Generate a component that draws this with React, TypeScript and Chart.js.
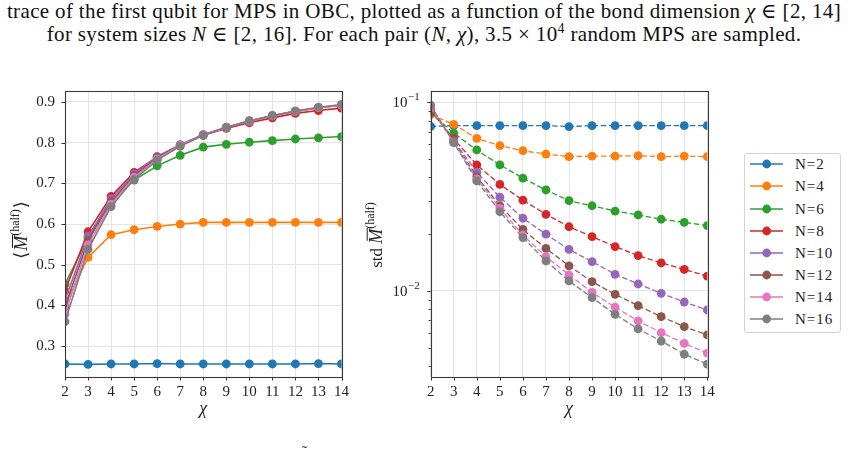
import { useEffect, useRef } from 'react';
import { Chart, registerables } from 'chart.js';

Chart.register(...registerables);

// Bond dimensions on the x axis and the system sizes shown as series
const chiValues = [2, 3, 4, 5, 6, 7, 8, 9, 10, 11, 12, 13, 14];
const systemSizes = [2, 4, 6, 8, 10, 12, 14, 16];
const seriesColors = ['#1f77b4', '#ff7f0e', '#2ca02c', '#d62728', '#9467bd', '#8c564b', '#e377c2', '#7f7f7f'];

// Mean of the half-chain magic per system size
const meanN2 = [0.256, 0.255, 0.256, 0.256, 0.257, 0.256, 0.256, 0.256, 0.256, 0.256, 0.256, 0.257, 0.256];
const meanN4 = [0.4, 0.518, 0.574, 0.586, 0.594, 0.6, 0.604, 0.604, 0.604, 0.604, 0.604, 0.604, 0.604];
const meanN6 = [0.452, 0.566, 0.655, 0.708, 0.743, 0.769, 0.789, 0.796, 0.801, 0.805, 0.809, 0.812, 0.815];
const meanN8 = [0.436, 0.581, 0.668, 0.727, 0.765, 0.794, 0.818, 0.835, 0.849, 0.861, 0.872, 0.879, 0.885];
const meanN10 = [0.413, 0.57, 0.662, 0.723, 0.766, 0.795, 0.82, 0.838, 0.853, 0.866, 0.877, 0.886, 0.892];
const meanN12 = [0.397, 0.559, 0.655, 0.719, 0.763, 0.794, 0.819, 0.837, 0.853, 0.866, 0.877, 0.886, 0.892];
const meanN14 = [0.378, 0.549, 0.649, 0.715, 0.76, 0.793, 0.819, 0.837, 0.853, 0.866, 0.877, 0.886, 0.892];
const meanN16 = [0.36, 0.538, 0.643, 0.71, 0.757, 0.791, 0.818, 0.837, 0.854, 0.867, 0.878, 0.887, 0.894];

// Standard deviation of the half-chain magic per system size
const stdN2 = [0.0745, 0.0752, 0.0752, 0.0752, 0.0752, 0.0752, 0.0744, 0.0752, 0.0752, 0.0752, 0.0752, 0.0752, 0.0752];
const stdN4 = [0.086, 0.0764, 0.0644, 0.0589, 0.0554, 0.0532, 0.0515, 0.0519, 0.0519, 0.0521, 0.0515, 0.0519, 0.0515];
const stdN6 = [0.088, 0.0686, 0.0559, 0.0466, 0.0396, 0.0343, 0.0301, 0.0283, 0.0265, 0.0253, 0.024, 0.0231, 0.0222];
const stdN8 = [0.09, 0.064, 0.0466, 0.0367, 0.0303, 0.0255, 0.0219, 0.0194, 0.0172, 0.0154, 0.0141, 0.013, 0.012];
const stdN10 = [0.092, 0.0625, 0.0426, 0.0314, 0.0243, 0.02, 0.0166, 0.0143, 0.01226, 0.01089, 0.00972, 0.00874, 0.00793];
const stdN12 = [0.093, 0.0618, 0.0404, 0.0283, 0.0212, 0.0168, 0.0136, 0.0112, 0.0096, 0.00836, 0.00731, 0.00647, 0.00585];
const stdN14 = [0.094, 0.0614, 0.0393, 0.0274, 0.0198, 0.0152, 0.01216, 0.00984, 0.0082, 0.00694, 0.00602, 0.00528, 0.00468];
const stdN16 = [0.0967, 0.0611, 0.0383, 0.0263, 0.0192, 0.01442, 0.0113, 0.00922, 0.00752, 0.00629, 0.00543, 0.00462, 0.0041];

const meanSeries = [meanN2, meanN4, meanN6, meanN8, meanN10, meanN12, meanN14, meanN16];
const stdSeries = [stdN2, stdN4, stdN6, stdN8, stdN10, stdN12, stdN14, stdN16];

// Axis ticks
const meanTicks = [0.3, 0.4, 0.5, 0.6, 0.7, 0.8, 0.9];
const stdMajorTicks = [0.01, 0.1];
const stdMinorTicks = [0.004, 0.005, 0.006, 0.007, 0.008, 0.009, 0.02, 0.03, 0.04, 0.05, 0.06, 0.07, 0.08, 0.09];
const stdMajorExponents = ['−2', '−1'];

const SERIF = '"Liberation Serif", "DejaVu Serif", serif';
const GRID = '#e4e4e4';
const INK = '#222';

type Part = { t: string; font: string; dy?: number; bar?: boolean; gap?: number };

function drawRotatedMath(ctx: CanvasRenderingContext2D, parts: Part[], baseX: number, centerY: number) {
  ctx.save();
  ctx.translate(baseX, centerY);
  ctx.rotate(-Math.PI / 2);
  ctx.fillStyle = INK;
  ctx.textBaseline = 'alphabetic';
  ctx.textAlign = 'left';
  const widths = parts.map((p) => {
    ctx.font = p.font;
    return ctx.measureText(p.t).width + (p.gap || 0);
  });
  const total = widths.reduce((a, b) => a + b, 0);
  let x = -total / 2;
  parts.forEach((p, i) => {
    ctx.font = p.font;
    ctx.fillText(p.t, x, p.dy || 0);
    if (p.bar) {
      ctx.strokeStyle = INK;
      ctx.lineWidth = 1;
      ctx.beginPath();
      ctx.moveTo(x + 3, -14.5);
      ctx.lineTo(x + widths[i] + 1, -14.5);
      ctx.stroke();
    }
    x += widths[i];
  });
  ctx.restore();
}

function makeDecor(kind: 'mean' | 'std') {
  return {
    id: 'decor-' + kind,
    afterDraw(chart: any) {
      const { ctx, chartArea: a, scales } = chart;
      ctx.save();
      ctx.strokeStyle = '#333';
      ctx.lineWidth = 1;
      // outward tick marks
      ctx.beginPath();
      chiValues.forEach((v) => {
        const px = Math.round(scales.x.getPixelForValue(v)) + 0.5;
        ctx.moveTo(px, a.bottom);
        ctx.lineTo(px, a.bottom + 3.5);
      });
      const majors = kind === 'mean' ? meanTicks : stdMajorTicks;
      majors.forEach((v) => {
        const py = Math.round(scales.y.getPixelForValue(v)) + 0.5;
        ctx.moveTo(a.left, py);
        ctx.lineTo(a.left - 3.5, py);
      });
      if (kind === 'std') {
        stdMinorTicks.forEach((v) => {
          const py = Math.round(scales.y.getPixelForValue(v)) + 0.5;
          ctx.moveTo(a.left, py);
          ctx.lineTo(a.left - 2, py);
        });
      }
      ctx.stroke();
      // frame
      ctx.strokeStyle = '#3a3a3a';
      ctx.lineWidth = 1.1;
      ctx.strokeRect(Math.round(a.left) + 0.5, Math.round(a.top) + 0.5, Math.round(a.right - a.left), Math.round(a.bottom - a.top));

      // power-of-ten labels on the log axis
      if (kind === 'std') {
        ctx.fillStyle = INK;
        ctx.textBaseline = 'alphabetic';
        ctx.textAlign = 'left';
        stdMajorTicks.forEach((v, i) => {
          const py = scales.y.getPixelForValue(v);
          const right = a.left - 11;
          ctx.font = '11px ' + SERIF;
          const we = ctx.measureText(stdMajorExponents[i]).width;
          ctx.font = '15px ' + SERIF;
          const wb = ctx.measureText('10').width;
          ctx.fillText('10', right - we - wb - 0.5, py + 5);
          ctx.font = '11px ' + SERIF;
          ctx.fillText(stdMajorExponents[i], right - we, py - 2);
        });
      }

      // x axis title
      ctx.fillStyle = INK;
      ctx.font = 'italic 18px ' + SERIF;
      ctx.textAlign = 'center';
      ctx.textBaseline = 'alphabetic';
      ctx.fillText('χ', (a.left + a.right) / 2, a.bottom + 37);

      // y axis title
      const cy = (a.top + a.bottom) / 2;
      if (kind === 'mean') {
        drawRotatedMath(
          ctx,
          [
            { t: '⟨', font: '18px "DejaVu Serif"', gap: 1 },
            { t: 'M', font: 'italic 18px ' + SERIF, bar: true },
            { t: '(half)', font: '12px ' + SERIF, dy: -8, gap: 1 },
            { t: '⟩', font: '18px "DejaVu Serif"' },
          ],
          27,
          cy - 4
        );
      } else {
        drawRotatedMath(
          ctx,
          [
            { t: 'std ', font: '17px ' + SERIF },
            { t: 'M', font: 'italic 18px ' + SERIF, bar: true },
            { t: '(half)', font: '12px ' + SERIF, dy: -8 },
          ],
          a.left - 49,
          cy + 1
        );
      }
      ctx.restore();
    },
  };
}

function buildDatasets(series: number[][], dashed: boolean) {
  return series.map((arr, i) => ({
    label: 'N=' + systemSizes[i],
    data: chiValues.map((c, j) => ({ x: c, y: arr[j] })),
    borderColor: seriesColors[i],
    backgroundColor: seriesColors[i],
    pointBackgroundColor: seriesColors[i],
    pointBorderColor: seriesColors[i],
    borderWidth: dashed ? 1.3 : 1.6,
    borderDash: dashed ? [5.5, 2.6] : [],
    pointRadius: 4.4,
    pointHoverRadius: 4.4,
    pointBorderWidth: 0,
    tension: 0,
    clip: 0,
    order: series.length - i,
  }));
}

function xScale(height: number) {
  return {
    type: 'linear' as const,
    min: 2,
    max: 14,
    afterBuildTicks: (s: any) => {
      s.ticks = chiValues.map((v) => ({ value: v }));
    },
    afterFit: (s: any) => {
      s.height = height;
    },
    grid: { color: GRID, lineWidth: 1, drawTicks: false },
    border: { display: false },
    ticks: {
      padding: 6,
      color: INK,
      autoSkip: false,
      maxRotation: 0,
      font: { family: SERIF, size: 15 },
      callback: (v: any) => String(v),
    },
  };
}

function meanConfig(): any {
  return {
    type: 'line',
    data: { datasets: buildDatasets(meanSeries, false) },
    options: {
      animation: false,
      responsive: false,
      devicePixelRatio: 1,
      layout: { padding: { top: 31, right: 13, left: 0, bottom: 0 } },
      plugins: { legend: { display: false }, tooltip: { enabled: false } },
      events: [],
      scales: {
        x: xScale(76),
        y: {
          type: 'linear',
          min: 0.224,
          max: 0.927,
          afterBuildTicks: (s: any) => {
            s.ticks = meanTicks.map((v) => ({ value: v }));
          },
          afterFit: (s: any) => {
            s.width = 65;
          },
          grid: { color: GRID, lineWidth: 1, drawTicks: false },
          border: { display: false },
          ticks: {
            padding: 10,
            color: INK,
            autoSkip: false,
            font: { family: SERIF, size: 15 },
            callback: (v: any) => Number(v).toFixed(1),
          },
        },
      },
    },
    plugins: [makeDecor('mean')],
  };
}

function stdConfig(): any {
  return {
    type: 'line',
    data: { datasets: buildDatasets(stdSeries, true) },
    options: {
      animation: false,
      responsive: false,
      devicePixelRatio: 1,
      layout: { padding: { top: 31, right: 22.7, left: 0, bottom: 0 } },
      plugins: { legend: { display: false }, tooltip: { enabled: false } },
      events: [],
      scales: {
        x: xScale(76),
        y: {
          type: 'logarithmic',
          min: 0.0035,
          max: 0.1148,
          afterBuildTicks: (s: any) => {
            s.ticks = [...stdMinorTicks, ...stdMajorTicks]
              .sort((p, q) => p - q)
              .map((v) => ({ value: v, major: stdMajorTicks.includes(v) }));
          },
          afterFit: (s: any) => {
            s.width = 75.7;
          },
          grid: {
            drawTicks: false,
            lineWidth: 1,
            color: (c: any) => (c.tick && stdMajorTicks.includes(c.tick.value) ? GRID : 'rgba(0,0,0,0)'),
          },
          border: { display: false },
          ticks: { display: false },
        },
      },
    },
    plugins: [makeDecor('std')],
  };
}

const legendTop = 153;
const legendRowStart = 164.3;
const legendRowStep = 22.1;

export default function App() {
  const meanRef = useRef<HTMLCanvasElement>(null);
  const stdRef = useRef<HTMLCanvasElement>(null);

  useEffect(() => {
    const meanChart = new Chart(meanRef.current as HTMLCanvasElement, meanConfig());
    const stdChart = new Chart(stdRef.current as HTMLCanvasElement, stdConfig());
    return () => {
      meanChart.destroy();
      stdChart.destroy();
    };
  }, []);

  const line: any = {
    position: 'absolute',
    left: 0,
    width: 848,
    textAlign: 'center',
    whiteSpace: 'nowrap',
    fontFamily: SERIF,
    fontSize: 21,
    letterSpacing: 0.35,
    lineHeight: '24px',
    color: '#111',
  };

  return (
    <div
      style={{
        position: 'absolute',
        left: 0,
        top: 0,
        width: 848,
        height: 453,
        background: '#fff',
        overflow: 'hidden',
        fontFamily: SERIF,
      }}
    >
      <div style={{ ...line, top: -1 }}>
        trace of the first qubit for MPS in OBC, plotted as a function of the bond dimension <i>χ</i> ∈ [2, 14]
      </div>
      <div style={{ ...line, top: 22 }}>
        for system sizes <i>N</i> ∈ [2, 16]. For each pair (<i>N</i>, <i>χ</i>), 3.5 × 10
        <sup style={{ fontSize: 14, lineHeight: 0 }}>4</sup> random MPS are sampled.
      </div>

      <canvas ref={meanRef} width={355} height={393} style={{ position: 'absolute', left: 0, top: 60 }} />
      <canvas ref={stdRef} width={375} height={393} style={{ position: 'absolute', left: 355, top: 60 }} />

      <div
        style={{
          position: 'absolute',
          left: 744,
          top: legendTop,
          width: 95,
          height: 178,
          border: '1px solid #d4d4d4',
          borderRadius: 3,
          background: '#fff',
        }}
      >
        {systemSizes.map((n, i) => (
          <div
            key={n}
            style={{
              position: 'absolute',
              left: 0,
              top: legendRowStart + i * legendRowStep - legendTop - 1 - 9,
              height: 18,
              width: 95,
            }}
          >
            <svg width={44} height={18} style={{ position: 'absolute', left: 0, top: 0 }}>
              <line x1={5} y1={9} x2={38} y2={9} stroke={seriesColors[i]} strokeWidth={1.6} />
              <circle cx={21.7} cy={9} r={4.4} fill={seriesColors[i]} />
            </svg>
            <span
              style={{
                position: 'absolute',
                left: 50,
                top: 0,
                fontSize: 15,
                lineHeight: '18px',
                letterSpacing: 1,
                color: INK,
              }}
            >
              N=
              {n}
            </span>
          </div>
        ))}
      </div>

      <div style={{ position: 'absolute', left: 302, top: 444, fontSize: 16, lineHeight: '16px', color: '#333' }}>˜</div>
    </div>
  );
}
